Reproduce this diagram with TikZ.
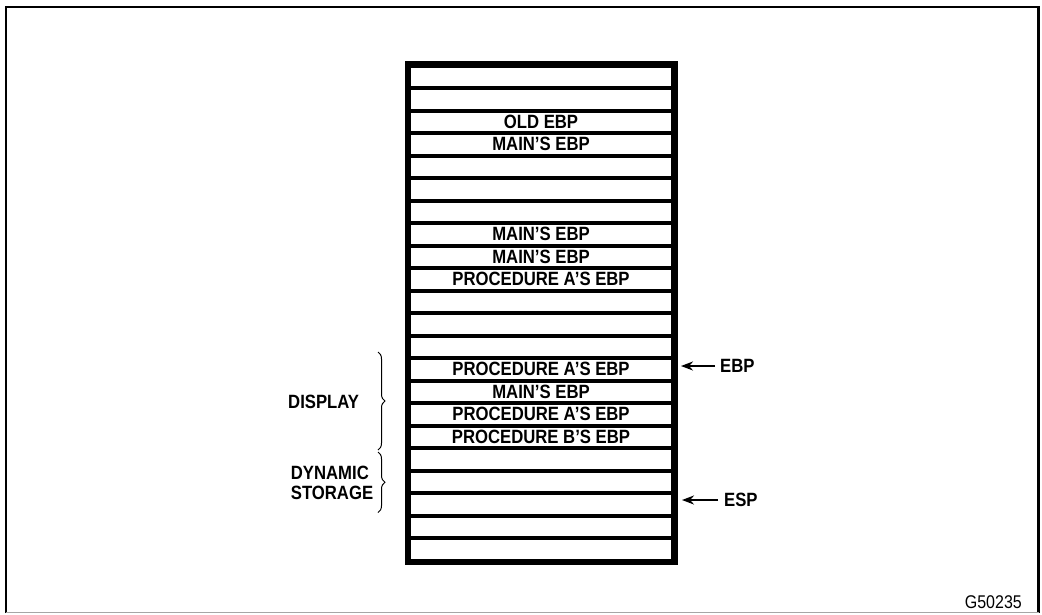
\documentclass[tikz,border=0pt]{standalone}
\usepackage{graphicx}
\usepackage{fontspec}
\setmainfont{Liberation Sans}
\usetikzlibrary{arrows.meta,decorations.pathreplacing}
\newcommand\tallt[1]{\scalebox{1}[1.15]{#1}}
\begin{document}
\begin{tikzpicture}[x=1pt,y=-1pt,
  cell/.style={draw,line width=4pt,minimum width=264pt,minimum height=22.5pt,inner sep=0pt,font=\fontsize{16.7}{18}\selectfont\bfseries},
  lbl/.style={font=\fontsize{16.7}{20}\selectfont\bfseries,inner sep=0pt},
  ptr/.style={line width=2.6pt,-{Stealth[length=12pt,width=9pt]}},
  brc/.style={decorate,decoration={brace,amplitude=7pt},line width=1pt}]
\useasboundingbox (0,0) rectangle (1042,614);
% outer frame
\draw[line width=2.5pt] (6,613) -- (6,7) -- (1038.5,7) -- (1038.5,613);
\draw[black!35,line width=1.5pt] (6,612.5) -- (1038.5,612.5);
% stack cells
\foreach \i/\t in {1/{},2/{},3/OLD EBP,4/MAIN’S EBP,5/{},6/{},7/{},8/MAIN’S EBP,9/MAIN’S EBP,10/PROCEDURE A’S EBP,11/{},12/{},13/{},14/PROCEDURE A’S EBP,15/MAIN’S EBP,16/PROCEDURE A’S EBP,17/PROCEDURE B’S EBP,18/{},19/{},20/{},21/{},22/{}}
  \node[cell] (r\i) at (541,{65.5+(\i-0.5)*22.5}) {\tallt{\t}};
\draw[line width=5pt] (r1.north west) rectangle (r22.south east);
% pointers
\node[lbl,anchor=west] (ebp) at (720,366) {\tallt{EBP}};
\draw[ptr,shorten <=5pt,shorten >=6pt] (ebp.west) -- (ebp.west -| r14.east);
\node[lbl,anchor=west] (esp) at (724,500) {\tallt{ESP}};
\draw[ptr,shorten <=6pt,shorten >=7pt] (esp.west) -- (esp.west -| r20.east);
% braces
\draw[brc] ([xshift=-29pt,yshift=4pt]r14.north west) -- ([xshift=-29pt]r17.south west);
\draw[brc] ([xshift=-29pt,yshift=-6pt]r18.north west) -- ([xshift=-29pt,yshift=5pt]r20.south west);
\node[lbl,anchor=west] (disp) at (288,402) {\tallt{DISPLAY}};
\node[lbl,anchor=west] (dyn) at (290.7,473) {\tallt{DYNAMIC}};
\node[lbl,anchor=west] (stor) at (290.7,493) {\tallt{STORAGE}};
% figure id
\node[font=\fontsize{16}{18}\selectfont,anchor=east,inner sep=0pt] (gid) at (1022,602) {\tallt{G50235}};
\end{tikzpicture}
\end{document}
